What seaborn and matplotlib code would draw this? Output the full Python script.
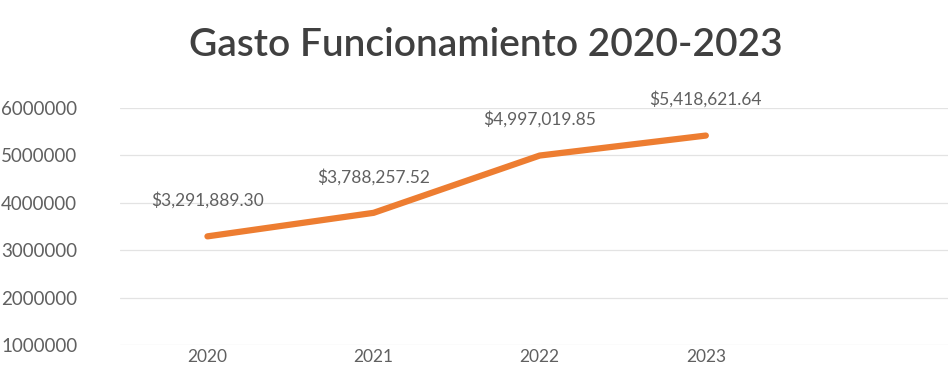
import seaborn as sns
import matplotlib.pyplot as plt
import pandas as pd

years = [2020, 2021, 2022, 2023]
gasto = [3291889.30, 3788257.52, 4997019.85, 5418621.64]
y_ticks = [1000000, 2000000, 3000000, 4000000, 5000000, 6000000]
title = "Gasto Funcionamiento 2020-2023"

sns.set_theme(style="white")
plt.rcParams["font.family"] = ["Lato", "DejaVu Sans"]

df = pd.DataFrame({"year": years, "gasto": gasto})

fig = plt.figure(figsize=(9.48, 3.66), dpi=100)
ax = fig.add_axes([0.127, 0.0574, 0.8734, 0.6475])

sns.lineplot(data=df, x="year", y="gasto", ax=ax, color="#ED7D31",
             linewidth=4.5, solid_capstyle="round", solid_joinstyle="round")

for x, y in zip(years, gasto):
    ax.annotate(f"${y:,.2f}", (x, y), xytext=(0, 26), textcoords="offset points",
                ha="center", va="center", fontsize=12.5, color="#606060",
                annotation_clip=False)

ax.set_ylim(1000000, 6000000)
ax.set_xlim(2019.476, 2024.46)
ax.set_yticks(y_ticks)
ax.set_yticklabels([str(v) for v in y_ticks])
ax.set_xticks(years)
ax.set_xticklabels([str(v) for v in years])
ax.tick_params(axis="both", length=0, labelsize=12.5, colors="#606060")
ax.tick_params(axis="y", labelsize=13.5, pad=31)
ax.tick_params(axis="x", pad=3)
ax.grid(axis="y", color="#e3e3e3", linewidth=0.9)
ax.grid(axis="x", visible=False)
sns.despine(ax=ax, left=True, bottom=True)
ax.set_xlabel("")
ax.set_ylabel("")

fig.text(0.512, 0.877, title, ha="center", va="center", fontsize=28,
         color="#404040", fontweight="semibold")

fig.savefig("out.png", dpi=100)
